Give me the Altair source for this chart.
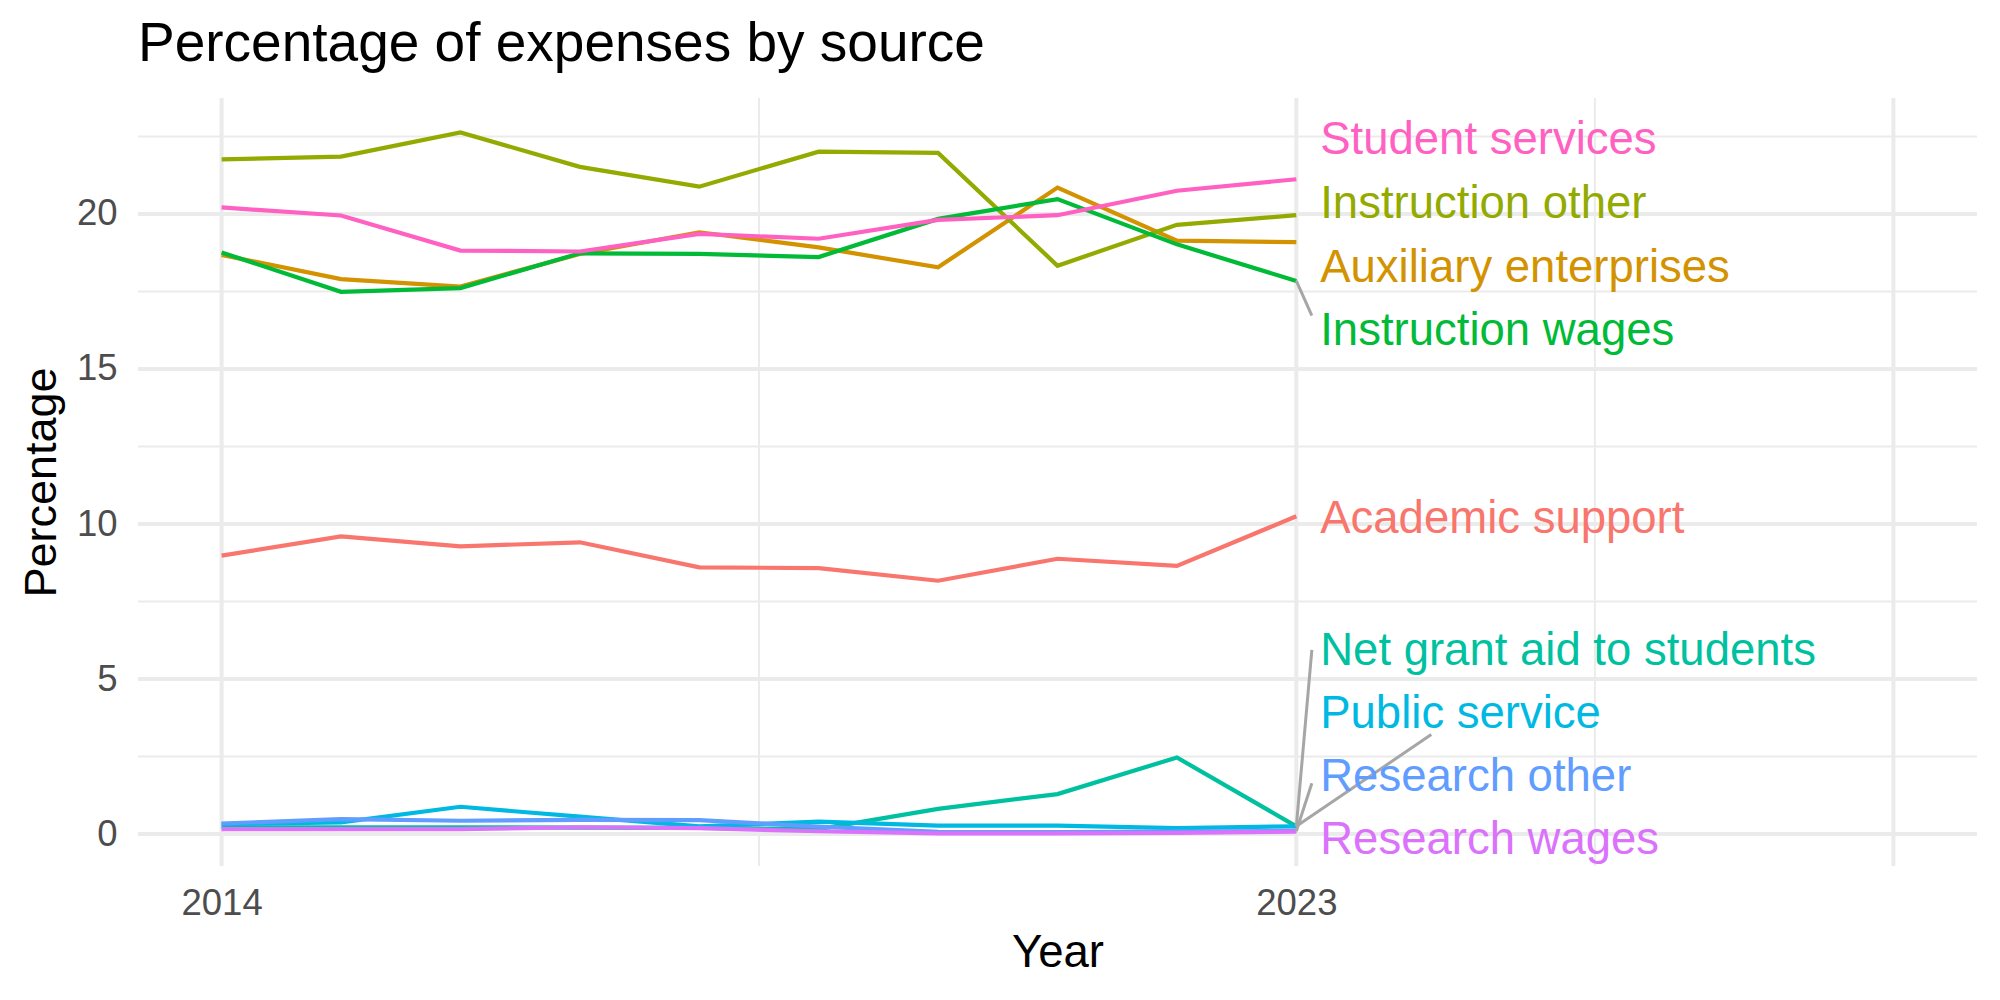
import altair as alt
import pandas as pd

years = [2014, 2015, 2016, 2017, 2018, 2019, 2020, 2021, 2022, 2023]

series_names = ["Academic support", "Auxiliary enterprises", "Instruction other",
                "Instruction wages", "Net grant aid to students", "Public service",
                "Research other", "Research wages", "Student services"]
series_colors = ["#F8766D", "#D39200", "#93AA00", "#00BA38", "#00C19F",
                 "#00B9E3", "#619CFF", "#DB72FB", "#FF61C3"]

academic_support = [8.98, 9.60, 9.28, 9.41, 8.60, 8.58, 8.17, 8.88, 8.65, 10.25]
auxiliary_enterprises = [18.68, 17.90, 17.66, 18.71, 19.41, 18.92, 18.28, 20.85, 19.14, 19.09]
instruction_other = [21.76, 21.85, 22.63, 21.52, 20.88, 22.01, 21.97, 18.33, 19.65, 19.96]
instruction_wages = [18.76, 17.49, 17.61, 18.73, 18.71, 18.61, 19.84, 20.48, 19.02, 17.84]
net_grant_aid = [0.22, 0.22, 0.22, 0.21, 0.20, 0.16, 0.81, 1.29, 2.47, 0.25]
public_service = [0.32, 0.38, 0.88, 0.56, 0.25, 0.40, 0.27, 0.27, 0.19, 0.25]
research_other = [0.34, 0.48, 0.43, 0.46, 0.45, 0.24, 0.07, 0.06, 0.08, 0.10]
research_wages = [0.16, 0.16, 0.16, 0.22, 0.19, 0.09, 0.02, 0.02, 0.04, 0.08]
student_services = [20.21, 19.95, 18.82, 18.79, 19.36, 19.20, 19.81, 19.96, 20.75, 21.12]

series_values = [academic_support, auxiliary_enterprises, instruction_other,
                 instruction_wages, net_grant_aid, public_service,
                 research_other, research_wages, student_services]

# repelled label positions (data units), as placed in the reference
label_y = [10.25, 18.33, 20.40, 16.32, 6.00, 3.96, 1.93, -0.10, 22.45]
label_x = 2023.2

# connector segments (series, end x, end y)
seg_series = ["Instruction wages", "Net grant aid to students", "Public service", "Research other"]
seg_x2 = [2023.13, 2023.13, 2024.13, 2023.13]
seg_y2 = [16.72, 5.94, 3.21, 1.64]

y_major = [0, 5, 10, 15, 20]
y_minor = [2.5, 7.5, 12.5, 17.5, 22.5]
x_major = [2014, 2023, 2028]
x_minor = [2018.5, 2025.5]
x_tick_labels = [2014, 2023]

FONT = "Liberation Sans"

rows = []
for name, vals in zip(series_names, series_values):
    for yr, v in zip(years, vals):
        rows.append({"Year": yr, "Percentage": v, "Source": name})
df = pd.DataFrame(rows)

last_vals = {n: v[-1] for n, v in zip(series_names, series_values)}
lab_df = pd.DataFrame({"Source": series_names, "ly": label_y, "lx": [label_x] * len(series_names)})
seg_df = pd.DataFrame({"Source": seg_series,
                       "x1": [years[-1]] * len(seg_series),
                       "y1": [last_vals[s] for s in seg_series],
                       "x2": seg_x2, "y2": seg_y2})

xscale = alt.Scale(domain=[2013.3, 2028.7], nice=False, zero=False)
yscale = alt.Scale(domain=[-1.03, 23.74], nice=False, zero=False)
cscale = alt.Scale(domain=series_names, range=series_colors)

xaxis = alt.Axis(values=x_tick_labels, format="d", grid=False, domain=False, ticks=False,
                 tickSize=0, labelPadding=19, labelFontSize=36.5, labelColor="#4D4D4D",
                 labelFont=FONT, title="Year", titleFont=FONT, titleFontSize=45.5,
                 titleFontWeight="normal", titleColor="black", titleY=100,
                 titleBaseline="alphabetic")
yaxis = alt.Axis(values=y_major, grid=False, domain=False, ticks=False, tickSize=0,
                 labelPadding=21, labelFontSize=36.5, labelColor="#4D4D4D", labelFont=FONT,
                 title="Percentage", titleFont=FONT, titleFontSize=45, titleFontWeight="normal",
                 titleColor="black", titleX=-83, titleY=384,
                 titleAngle=-90, titleAlign="center", titleBaseline="alphabetic")

grid_color = "#EBEBEB"

ymin_rules = alt.Chart(pd.DataFrame({"v": y_minor})).mark_rule(color=grid_color, strokeWidth=2.0).encode(
    y=alt.Y("v:Q", scale=yscale, axis=yaxis))
ymaj_rules = alt.Chart(pd.DataFrame({"v": y_major})).mark_rule(color=grid_color, strokeWidth=4.0).encode(
    y=alt.Y("v:Q", scale=yscale, axis=yaxis))
xmin_rules = alt.Chart(pd.DataFrame({"v": x_minor})).mark_rule(color=grid_color, strokeWidth=2.0).encode(
    x=alt.X("v:Q", scale=xscale, axis=xaxis))
xmaj_rules = alt.Chart(pd.DataFrame({"v": x_major})).mark_rule(color=grid_color, strokeWidth=4.0).encode(
    x=alt.X("v:Q", scale=xscale, axis=xaxis))

lines = alt.Chart(df).mark_line(strokeWidth=4.2).encode(
    x=alt.X("Year:Q", scale=xscale, axis=xaxis),
    y=alt.Y("Percentage:Q", scale=yscale, axis=yaxis),
    color=alt.Color("Source:N", scale=cscale, legend=None),
    detail="Source:N",
)

segs = alt.Chart(seg_df).mark_rule(color="#A6A6A6", strokeWidth=3.0).encode(
    x=alt.X("x1:Q", scale=xscale, axis=xaxis), y=alt.Y("y1:Q", scale=yscale, axis=yaxis),
    x2="x2:Q", y2="y2:Q")

labels = alt.Chart(lab_df).mark_text(align="left", baseline="alphabetic", dy=16.5,
                                     fontSize=45.5, font=FONT).encode(
    x=alt.X("lx:Q", scale=xscale, axis=xaxis), y=alt.Y("ly:Q", scale=yscale, axis=yaxis),
    text="Source:N",
    color=alt.Color("Source:N", scale=cscale, legend=None))

chart = alt.layer(ymin_rules, ymaj_rules, xmin_rules, xmaj_rules, lines, segs, labels).properties(
    width=1839, height=768,
    padding={"left": 138, "top": 98, "right": 23, "bottom": 134},
    autosize=alt.AutoSizeParams(type="none"),
    background="white",
    title=alt.TitleParams("Percentage of expenses by source", anchor="start", frame="group",
                          fontSize=55, font=FONT, fontWeight="normal", color="black",
                          offset=35, dy=55, baseline="alphabetic"),
).configure_view(stroke=None)

chart.save("out.html", embed_options={"renderer": "svg", "actions": False})
